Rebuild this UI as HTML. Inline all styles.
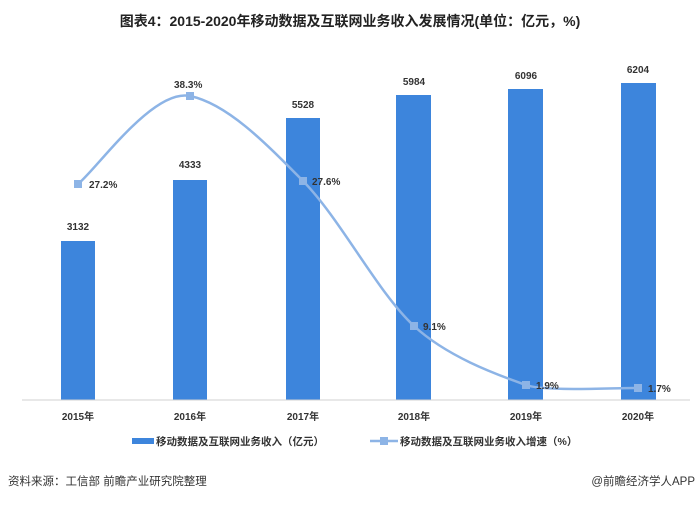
<!DOCTYPE html>
<html><head><meta charset="utf-8"><style>
body{margin:0;background:#fff;width:700px;height:504px;overflow:hidden;font-family:"Liberation Sans","Noto Sans CJK SC",sans-serif;}
</style></head><body>
<svg width="700" height="504" xmlns="http://www.w3.org/2000/svg" font-family="Liberation Sans, Noto Sans CJK SC, sans-serif">
<text x="350" y="26" text-anchor="middle" font-size="14" font-weight="bold" fill="#222">图表4：2015-2020年移动数据及互联网业务收入发展情况(单位：亿元，%)</text>
<g fill="#3d85dc">
<rect x="61" y="241" width="34" height="159"/>
<rect x="173" y="180" width="34" height="220"/>
<rect x="286" y="118" width="34" height="282"/>
<rect x="396" y="95" width="35" height="305"/>
<rect x="508" y="89" width="35" height="311"/>
<rect x="621" y="83" width="35" height="317"/>
</g>
<line x1="22" y1="400" x2="690" y2="400" stroke="#d0d0d0" stroke-width="1"/>
<g font-size="10" font-weight="bold" fill="#333" text-anchor="middle">
<text x="78" y="230">3132</text><text x="190" y="168">4333</text><text x="303" y="108">5528</text>
<text x="414" y="85">5984</text><text x="526" y="79">6096</text><text x="638" y="73">6204</text>
</g>
<path d="M78,184 C96.7,169.3 152.7,88.2 190,96 C227.3,103.8 265.2,142.7 303,181 C340.8,219.3 377.2,292.0 414,326 C450.8,360.0 507.3,378.0 526,385 C544.7,392.0 619.3,387.5 638,388" fill="none" stroke="#8db4e6" stroke-width="2.5"/>
<g fill="#8db4e6">
<rect x="74" y="180" width="8" height="8"/><rect x="186" y="92" width="8" height="8"/><rect x="299" y="177" width="8" height="8"/>
<rect x="410" y="322" width="8" height="8"/><rect x="522" y="381" width="8" height="8"/><rect x="634" y="384" width="8" height="8"/>
</g>
<g font-size="10" font-weight="bold" fill="#333">
<text x="89" y="188">27.2%</text><text x="174" y="88">38.3%</text><text x="312" y="185">27.6%</text>
<text x="423" y="330">9.1%</text><text x="536" y="389">1.9%</text><text x="648" y="392">1.7%</text>
</g>
<g font-size="10" font-weight="bold" fill="#333" text-anchor="middle">
<text x="78" y="420">2015年</text><text x="190" y="420">2016年</text><text x="303" y="420">2017年</text>
<text x="414" y="420">2018年</text><text x="526" y="420">2019年</text><text x="638" y="420">2020年</text>
</g>
<rect x="132" y="438" width="22" height="6" fill="#3d85dc"/>
<text x="156" y="445" font-size="10.5" font-weight="bold" fill="#333">移动数据及互联网业务收入（亿元）</text>
<line x1="370" y1="441" x2="398" y2="441" stroke="#8db4e6" stroke-width="2.5"/>
<rect x="380" y="437" width="8" height="8" fill="#8db4e6"/>
<text x="400" y="445" font-size="10.5" font-weight="bold" fill="#333">移动数据及互联网业务收入增速（%）</text>
<text x="8" y="485" font-size="11.5" fill="#333">资料来源：工信部 前瞻产业研究院整理</text>
<text x="695" y="485" font-size="11.5" fill="#333" text-anchor="end">@前瞻经济学人APP</text>
</svg>
</body></html>
